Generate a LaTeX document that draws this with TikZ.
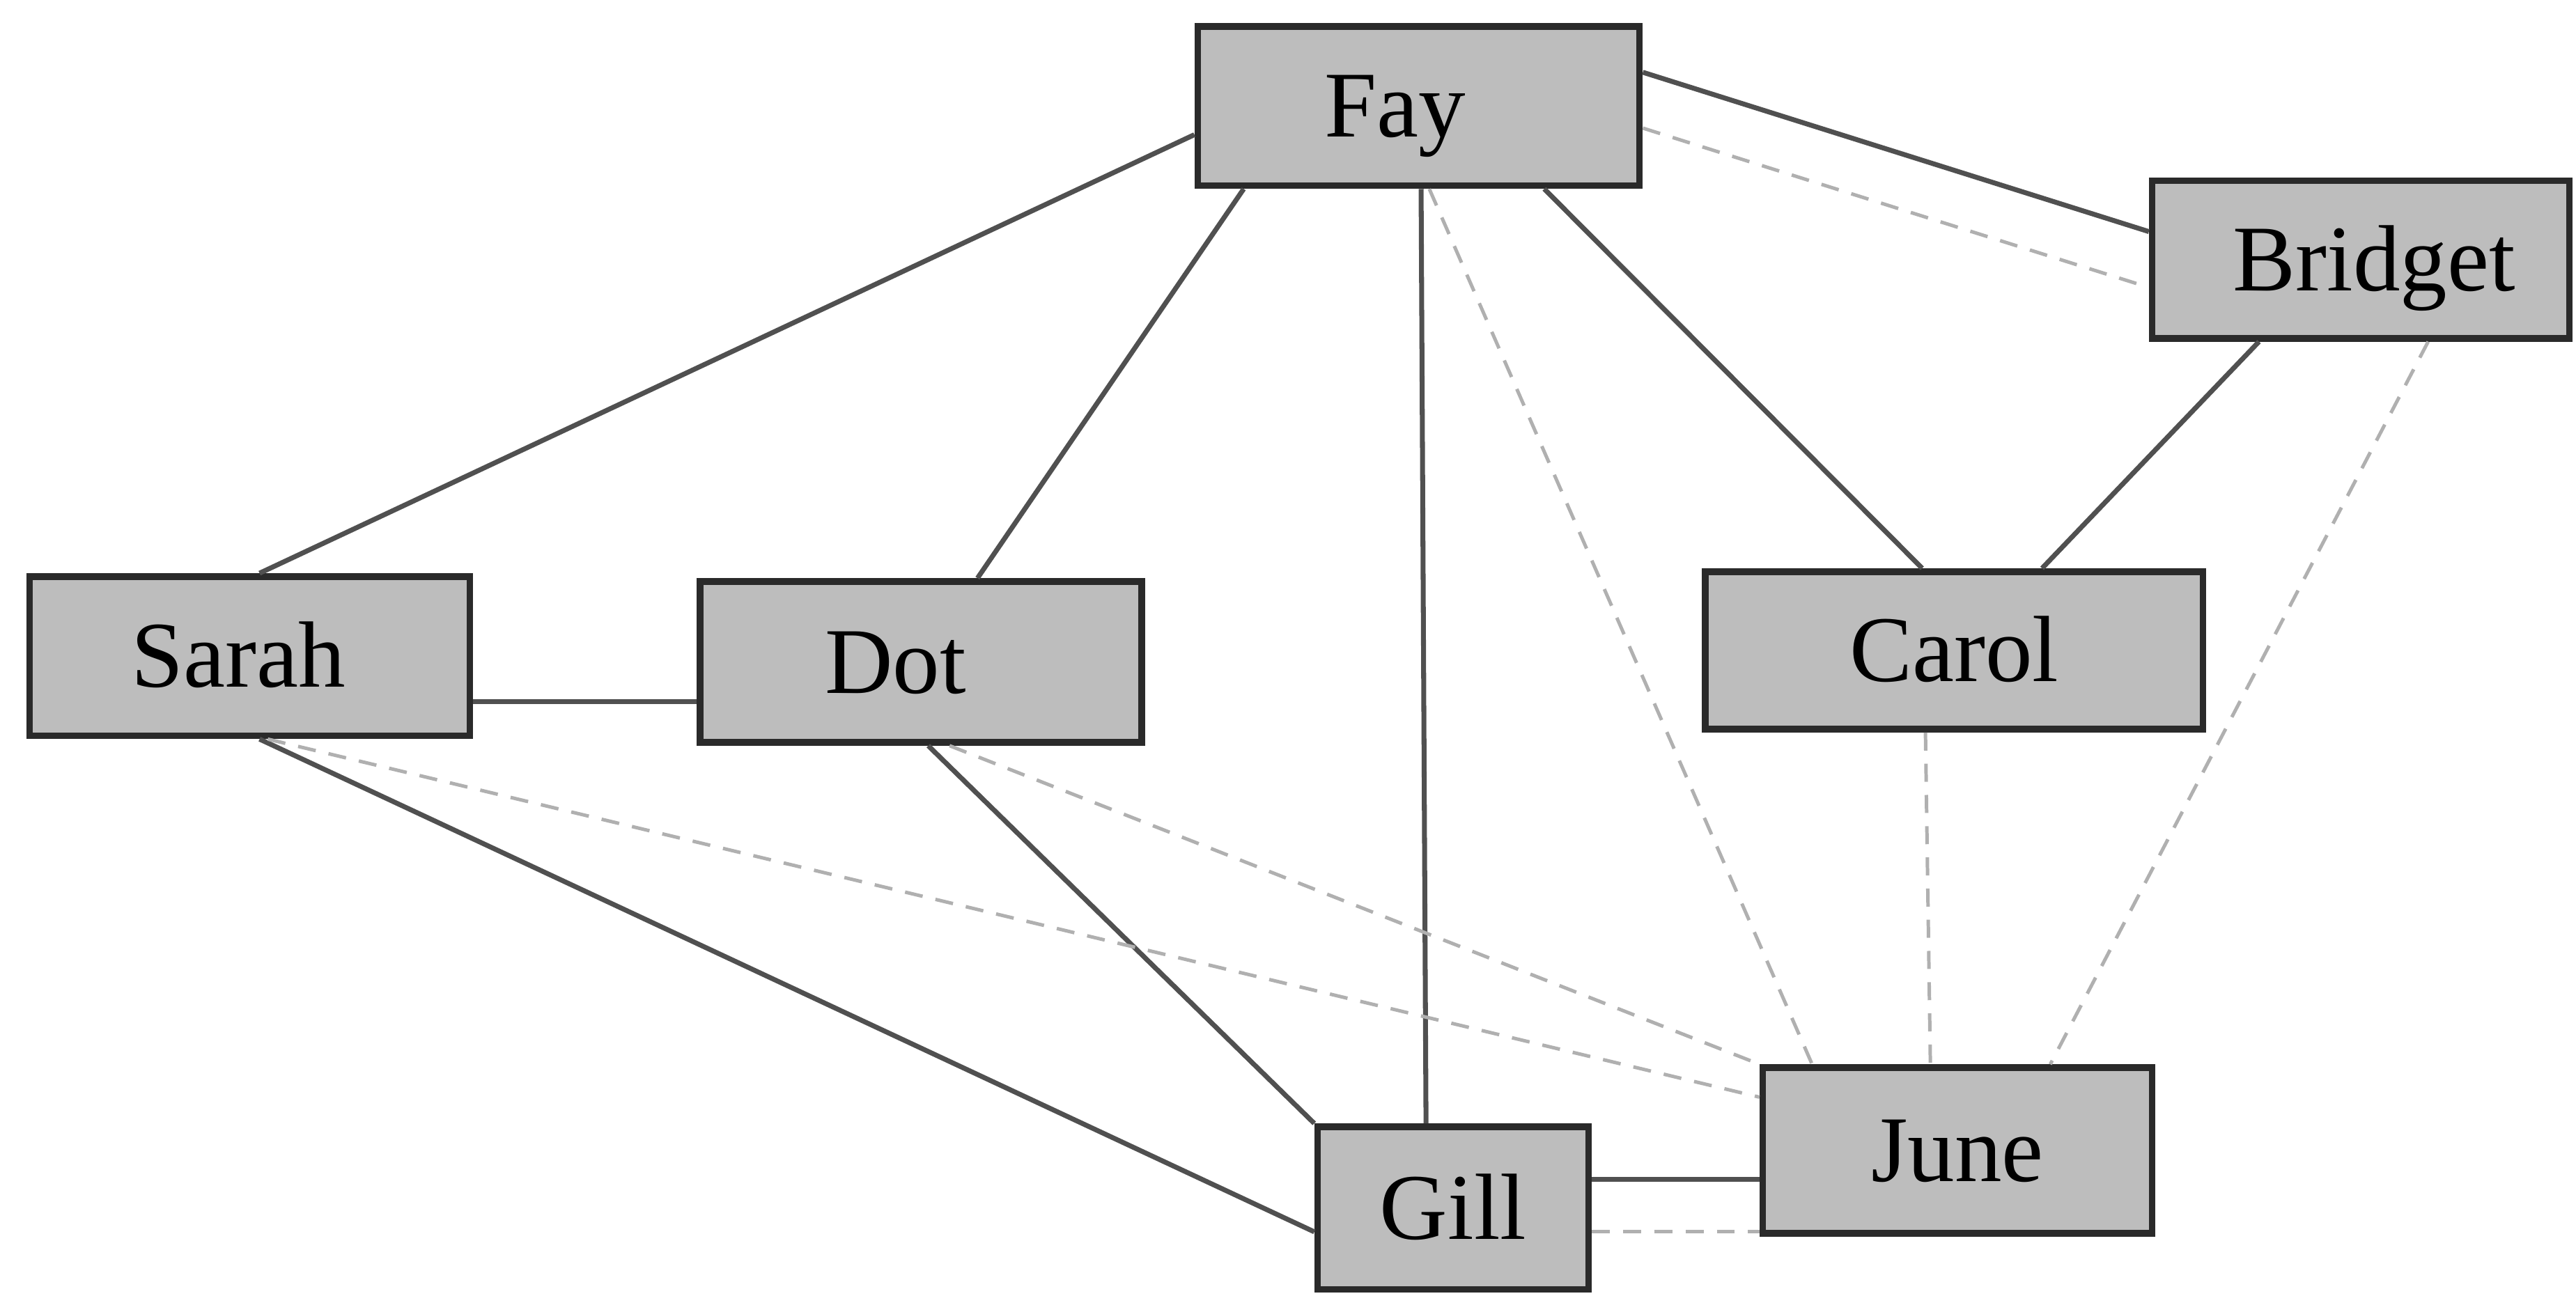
\documentclass[tikz,border=0pt]{standalone}
\usepackage{fontspec}
\setmainfont{Liberation Serif}
\usetikzlibrary{calc}
\definecolor{boxfill}{HTML}{BDBDBD}
\definecolor{boxline}{HTML}{2A2A2A}
\definecolor{solidline}{HTML}{505050}
\definecolor{dashline}{HTML}{B0B0B0}
\tikzset{
  person/.style={draw=boxline, line width=2.3pt, fill=boxfill, rectangle,
    inner sep=0pt, text height=21.6pt, text depth=0pt,
    font=\fontsize{32.6}{39}\selectfont},
  tie/.style={draw=solidline, line width=1.7pt},
  weak/.style={draw=dashline, line width=1.2pt, dash pattern=on 0.22cm off 0.16cm},
}
\begin{document}
\begin{tikzpicture}[x=0.02cm, y=-0.02cm]
\useasboundingbox (0,0) rectangle (1568,789);

\node[person, minimum width=5.38cm, minimum height=1.94cm] (fay)     at (863.5,64.5) {\hspace*{-0.58cm}Fay};
\node[person, minimum width=5.08cm, minimum height=1.92cm] (bridget) at (1437,158)   {\hspace*{0.32cm}Bridget};
\node[person, minimum width=5.36cm, minimum height=1.94cm] (sarah)   at (152,399.5)  {\hspace*{-0.28cm}Sarah};
\node[person, minimum width=5.38cm, minimum height=1.96cm] (dot)     at (560.5,403)  {\hspace*{-0.62cm}Dot};
\node[person, minimum width=6.06cm, minimum height=1.92cm] (carol)   at (1189.5,396) {Carol};
\node[person, minimum width=4.74cm, minimum height=2.02cm] (june)    at (1191.5,700.5) {June};
\node[person, minimum width=3.30cm, minimum height=1.98cm] (gill)    at (884.5,735.5) {Gill};

% solid ties
\draw[tie] ([yshift=-0.35cm]fay.west) -- ([xshift=0.12cm]sarah.north);
\draw[tie] ([xshift=-2.13cm]fay.south) -- ([xshift=0.69cm]dot.north);
\draw[tie] ([xshift=0.03cm]fay.south) -- ([xshift=-0.33cm]gill.north);
\draw[tie] ([xshift=1.53cm]fay.south) -- ([xshift=-0.39cm]carol.north);
\draw[tie] ([yshift=0.41cm]fay.east) -- ([yshift=0.34cm]bridget.west);
\draw[tie] ([xshift=-1.24cm]bridget.south) -- ([xshift=1.07cm]carol.north);
\draw[tie] ([yshift=-0.55cm]sarah.east) -- ([yshift=-0.55cm]sarah.east -| dot.west);
\draw[tie] ([xshift=0.12cm]sarah.south) -- ([yshift=-0.29cm]gill.west);
\draw[tie] ([xshift=0.09cm]dot.south) -- (gill.north west);
\draw[tie] ([yshift=0.35cm]gill.east) -- ([yshift=0.35cm]gill.east -| june.west);

% dashed ties
\draw[weak] ([yshift=-0.27cm]fay.east) -- ([yshift=-0.34cm]bridget.west);
\draw[weak] ([xshift=0.13cm]fay.south) -- ([xshift=-1.77cm]june.north);
\draw[weak] ([xshift=-0.35cm]carol.south) -- ([xshift=-0.33cm]june.north);
\draw[weak] ([xshift=0.82cm]bridget.south) -- ([xshift=1.13cm]june.north);
\draw[weak] ([xshift=0.22cm]sarah.south) -- ([yshift=0.65cm]june.west);
\draw[weak] ([xshift=0.35cm]dot.south) -- (june.north west);
\draw[weak] ([yshift=-0.29cm]gill.east) -- ([yshift=-0.29cm]gill.east -| june.west);
\end{tikzpicture}
\end{document}
